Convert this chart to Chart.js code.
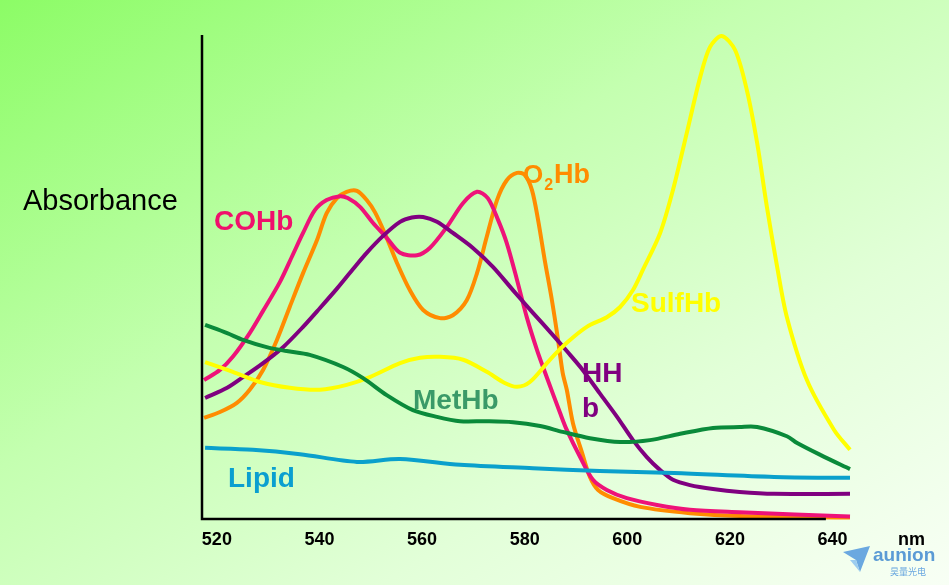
<!DOCTYPE html>
<html>
<head>
<meta charset="utf-8">
<script src="https://cdn.jsdelivr.net/npm/chart.js@4.4.1/dist/chart.umd.min.js"></script>
<style>
  html, body { margin: 0; padding: 0; }
  body {
    width: 949px; height: 585px; overflow: hidden;
    background: linear-gradient(to bottom right, #8cfc66 0%, #c4ffb0 40%, #e2ffd8 70%, #f8fff5 100%);
  }
  #wrap { position: absolute; left: 0; top: 0; width: 949px; height: 585px; }
</style>
</head>
<body>
<div id="wrap"><canvas id="c" width="949" height="585"></canvas></div>
<script>
// ---- data (wavelength in nm, absorbance in arbitrary units 0..100) ----
const tickLabels = [520, 540, 560, 580, 600, 620, 640];
const xMin = 517.1, xMax = 643.4, axisEndNm = 638.7;

const cohbNm  = [517.5,520.6,523.1,526.4,529.0,532.3,534.8,536.8,539.1,541.4,544.0,545.5,547.9,550.4,553.1,555.7,559.0,561.5,564.8,568.0,570.7,572.8,574.8,576.5,578.5,580.4,582.4,584.3,586.9,588.2,590.8,593.3,596.0,599.9,605.8,612.2,621.9,643.4];
const cohbVal = [28.7,30.8,33.5,38.4,43.0,49.0,54.6,59.1,63.8,65.9,66.7,66.3,64.5,61.2,58.1,55.0,54.5,56.0,60.3,65.3,67.6,66.3,61.8,57.0,49.4,41.7,34.9,29.3,21.9,18.4,12.8,8.1,6.0,4.3,2.9,1.9,1.4,0.5];

const o2hbNm  = [517.5,520.6,523.9,526.4,529.0,531.7,534.2,536.8,539.5,541.4,543.4,545.3,547.3,549.2,550.8,552.7,555.1,557.6,560.2,563.5,566.0,568.7,570.7,572.6,574.6,576.5,578.5,580.0,581.4,582.6,583.9,585.3,586.5,587.4,588.2,589.4,591.2,592.7,594.3,597.2,602.5,612.2,621.9,643.4];
const o2hbVal = [20.9,22.1,24.0,26.7,30.8,37.0,43.8,50.8,57.6,63.2,66.3,67.6,67.8,65.9,63.4,59.1,52.9,47.3,43.2,41.5,42.1,45.2,50.8,58.3,65.9,70.0,71.5,71.1,68.0,61.8,53.5,45.2,37.0,30.2,26.7,19.8,13.6,8.7,6.0,4.3,2.5,1.2,0.6,0.3];

const hhbNm  = [517.7,522.0,525.1,529.0,532.9,536.8,540.1,543.4,546.5,549.2,552.4,555.7,558.0,560.2,562.9,566.0,569.9,573.8,577.7,581.6,585.5,588.2,591.3,594.6,598.0,601.1,603.8,606.4,608.9,612.2,616.7,621.9,628.6,643.4];
const hhbVal = [25.0,27.1,29.3,32.2,35.5,39.7,43.6,47.6,51.6,55.0,58.5,61.4,62.3,62.4,61.4,59.1,56.0,52.1,47.3,42.6,38.0,34.7,30.8,26.0,21.1,16.3,12.8,10.1,8.1,7.0,6.2,5.6,5.2,5.2];

const sulfNm  = [517.7,523.1,528.4,534.2,540.1,545.3,549.8,555.7,559.6,563.5,568.0,572.6,576.1,578.5,581.0,584.9,588.2,592.1,596.0,598.6,601.1,603.0,606.4,608.9,611.6,614.2,616.1,618.4,621.0,623.3,625.3,627.2,629.2,631.1,635.0,640.3,643.4];
const sulfVal = [32.4,30.4,28.3,27.1,26.7,27.7,29.3,32.2,33.3,33.5,32.9,30.4,28.1,27.3,28.3,32.9,36.4,39.7,41.7,43.8,47.3,51.4,59.1,68.0,79.8,91.3,97.5,99.8,96.9,88.6,77.7,64.5,52.1,41.7,28.7,18.4,14.3];

const methbNm  = [517.7,522.0,525.1,529.7,533.6,538.1,544.6,548.5,553.1,558.2,562.9,567.4,572.6,577.7,583.0,587.4,592.7,598.6,604.4,610.3,616.7,621.9,625.3,631.1,633.1,637.7,643.4];
const methbVal = [40.1,38.4,37.0,35.5,34.7,33.9,31.4,29.1,25.6,22.5,21.1,20.2,20.2,20.0,19.2,18.0,16.7,15.9,16.3,17.6,18.8,19.0,19.0,17.1,15.7,13.2,10.3];

const lipidNm  = [517.7,527.0,536.2,547.3,555.7,567.4,581.6,594.6,609.1,628.6,643.4];
const lipidVal = [14.7,14.3,13.4,11.8,12.4,11.2,10.5,9.9,9.5,8.7,8.5];

const seriesNames = ['COHb', 'O2Hb', 'HHb', 'SulfHb', 'MetHb', 'Lipid'];

function pts(xs, ys) { return xs.map((x, i) => ({ x: x, y: ys[i] })); }

const FONT = '"Liberation Sans", Arial, Helvetica, sans-serif';

function ds(label, xs, ys, color) {
  return {
    label: label, data: pts(xs, ys), borderColor: color, backgroundColor: color,
    borderWidth: 4, pointRadius: 0, tension: 0.3, fill: false, clip: false,
    borderCapStyle: 'butt', borderJoinStyle: 'round'
  };
}

const decor = {
  id: 'decor',
  afterDatasetsDraw(chart) {
    const ctx = chart.ctx;
    const a = chart.chartArea;
    const xs = chart.scales.x;
    ctx.save();
    // axes lines
    ctx.strokeStyle = '#000';
    ctx.lineWidth = 2.5;
    ctx.beginPath();
    ctx.moveTo(a.left, a.top);
    ctx.lineTo(a.left, a.bottom);
    ctx.lineTo(xs.getPixelForValue(axisEndNm), a.bottom);
    ctx.stroke();

    ctx.textBaseline = 'alphabetic';
    ctx.textAlign = 'left';
    // axis titles
    ctx.fillStyle = '#000';
    ctx.font = '29px ' + FONT;
    ctx.fillText('Absorbance', 23, 210);
    ctx.font = 'bold 18px ' + FONT;
    ctx.fillText('nm', 898, 545);

    // series labels
    ctx.font = 'bold 28px ' + FONT;
    ctx.fillStyle = '#f0106c';
    ctx.fillText('COHb', 214, 230);
    ctx.fillStyle = '#ff8c00';
    ctx.font = 'bold 26px ' + FONT;
    ctx.fillText('O', 523, 183);
    let w = ctx.measureText('O').width;
    ctx.font = 'bold 16px ' + FONT;
    ctx.fillText('2', 523 + w + 1, 190);
    let w2 = ctx.measureText('2').width;
    ctx.font = 'bold 27px ' + FONT;
    ctx.fillText('Hb', 523 + w + w2 + 2, 183);
    ctx.font = 'bold 28px ' + FONT;
    ctx.fillStyle = '#ffff00';
    ctx.fillText('SulfHb', 631, 312);
    ctx.fillStyle = '#800080';
    ctx.fillText('HH', 582, 382);
    ctx.fillText('b', 582, 417);
    ctx.fillStyle = '#3a9a68';
    ctx.fillText('MetHb', 413, 409);
    ctx.fillStyle = '#0a9fd0';
    ctx.fillText('Lipid', 228, 487);

    // watermark
    ctx.fillStyle = '#6aa8e0';
    ctx.beginPath();
    ctx.moveTo(843, 552); ctx.lineTo(870, 546); ctx.lineTo(860, 572); ctx.lineTo(856, 560);
    ctx.closePath();
    ctx.fill();
    ctx.fillStyle = '#9ccdf0';
    ctx.beginPath();
    ctx.moveTo(850, 560); ctx.lineTo(856, 560); ctx.lineTo(860, 572);
    ctx.closePath();
    ctx.fill();
    ctx.fillStyle = '#5b9bd5';
    ctx.font = 'bold 19px ' + FONT;
    ctx.fillText('aunion', 873, 561);
    ctx.font = '9px "Noto Sans CJK SC", sans-serif';
    ctx.fillStyle = '#6aa8e0';
    ctx.fillText('昊量光电', 890, 575);
    ctx.restore();
  }
};

new Chart(document.getElementById('c'), {
  type: 'line',
  data: {
    datasets: [
      ds(seriesNames[4], methbNm, methbVal, '#0a8a3a'),
      ds(seriesNames[5], lipidNm, lipidVal, '#0aa0cc'),
      ds(seriesNames[3], sulfNm, sulfVal, '#ffff00'),
      ds(seriesNames[2], hhbNm, hhbVal, '#800080'),
      ds(seriesNames[0], cohbNm, cohbVal, '#ee1279'),
      ds(seriesNames[1], o2hbNm, o2hbVal, '#ff8c00')
    ]
  },
  plugins: [decor],
  options: {
    responsive: false,
    animation: false,
    devicePixelRatio: 1,
    layout: { padding: { left: 202, right: 99, top: 35, bottom: 36 } },
    plugins: { legend: { display: false }, tooltip: { enabled: false } },
    scales: {
      x: {
        type: 'linear', min: xMin, max: xMax,
        grid: { display: false, drawTicks: false },
        border: { display: false },
        afterBuildTicks: (s) => { s.ticks = tickLabels.map(v => ({ value: v })); },
        afterFit: (s) => { s.height = 30; },
        ticks: { color: '#000', padding: 10, autoSkip: false, maxRotation: 0,
                 font: { family: FONT, size: 18, weight: 'bold' } }
      },
      y: { type: 'linear', min: 0, max: 100, display: false }
    }
  }
});
</script>
</body>
</html>
